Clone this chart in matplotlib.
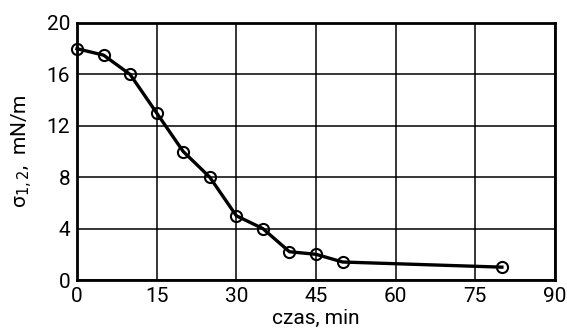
import matplotlib
matplotlib.use('Agg')
import matplotlib.pyplot as plt

# czas, min vs napiecie miedzyfazowe
czas = [0, 5, 10, 15, 20, 25, 30, 35, 40, 45, 50, 80]
sigma = [18.0, 17.5, 16.0, 13.0, 10.0, 8.0, 5.0, 4.0, 2.2, 2.0, 1.4, 1.0]
x_ticks = [0, 15, 30, 45, 60, 75, 90]
y_ticks = [0, 4, 8, 12, 16, 20]

plt.rcParams['font.family'] = ['Roboto', 'DejaVu Sans']

fig = plt.figure(figsize=(5.67, 3.34), dpi=100)
ax = fig.add_axes([77 / 567, 1 - 280 / 334, (555 - 77) / 567, (280 - 23) / 334])

ax.plot(czas, sigma, color='black', linewidth=2.4, marker='o', markersize=8,
        markerfacecolor='none', markeredgecolor='black', markeredgewidth=1.5,
        zorder=3, clip_on=False)

ax.set_xlim(0, 90)
ax.set_ylim(0, 20)
ax.set_xticks(x_ticks)
ax.set_yticks(y_ticks)
ax.tick_params(length=0, labelsize=15, pad=5)
ax.grid(True, color='black', linewidth=1.1)
ax.set_axisbelow(True)
for s in ax.spines.values():
    s.set_linewidth(2)

ax.set_xlabel('czas, min', fontsize=15, labelpad=2)
ax.set_ylabel('σ$_{1,2}$,  mN/m', fontsize=15, labelpad=8)

plt.savefig('out.png', dpi=100)
plt.close(fig)
